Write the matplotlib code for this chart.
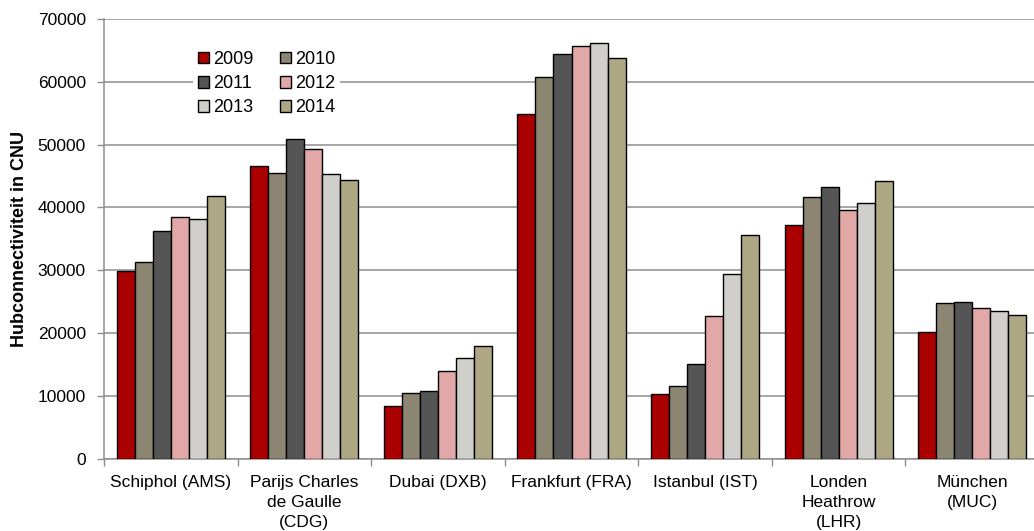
import matplotlib.pyplot as plt
import numpy as np
from matplotlib.ticker import FixedLocator, NullFormatter

# Data
airports = [
    "Schiphol (AMS)",
    "Parijs Charles\nde Gaulle\n(CDG)",
    "Dubai (DXB)",
    "Frankfurt (FRA)",
    "Istanbul (IST)",
    "Londen\nHeathrow\n(LHR)",
    "München\n(MUC)",
]
years = ["2009", "2010", "2011", "2012", "2013", "2014"]

cnu_2009 = [29900, 46650, 8400, 54900, 10350, 37200, 20100]
cnu_2010 = [31300, 45450, 10500, 60800, 11550, 41650, 24750]
cnu_2011 = [36250, 50850, 10850, 64500, 15150, 43300, 24900]
cnu_2012 = [38400, 49350, 13950, 65700, 22650, 39650, 24000]
cnu_2013 = [38150, 45400, 16000, 66100, 29400, 40700, 23450]
cnu_2014 = [41900, 44400, 18000, 63850, 35600, 44200, 22900]
series = [cnu_2009, cnu_2010, cnu_2011, cnu_2012, cnu_2013, cnu_2014]

colors = ["#AA0000", "#8C8572", "#555555", "#E2A8A8", "#D0CFCB", "#ADA783"]

plt.rcParams["font.family"] = ["Liberation Sans", "DejaVu Sans"]
plt.rcParams["font.size"] = 12.5

W, H = 1034, 531
fig = plt.figure(figsize=(W / 100, H / 100), dpi=100)

# axes spans a little past the right edge, as in the reference
left, right, top, bottom = 104, 1039, 19, 458.7
ax = fig.add_axes([left / W, 1 - bottom / H, (right - left) / W, (bottom - top) / H])

x = np.arange(len(airports))
bar_w = 0.135
n = len(series)
bars = []
for i, (vals, year, col) in enumerate(zip(series, years, colors)):
    offs = (i - (n - 1) / 2) * bar_w
    b = ax.bar(x + offs, vals, width=bar_w, color=col, edgecolor="black",
               linewidth=1.0, label=year, zorder=3)
    bars.append(b)

ax.set_xlim(-0.5, len(airports) - 0.5)
ax.set_ylim(0, 70000)
ax.set_yticks(range(0, 70001, 10000))

ax.grid(axis="y", color="#8E8E8E", linewidth=1.1, zorder=0)
ax.set_axisbelow(True)

for side in ["top", "right"]:
    ax.spines[side].set_visible(False)
for side in ["left", "bottom"]:
    ax.spines[side].set_color("#8E8E8E")
    ax.spines[side].set_linewidth(1.1)

# category labels centred, tick marks at the group boundaries
ax.set_xticks(x)
ax.set_xticklabels(airports, linespacing=1.4)
ax.tick_params(axis="x", which="major", length=0, pad=12)
ax.xaxis.set_minor_locator(FixedLocator(np.arange(-0.5, len(airports), 1.0)))
ax.xaxis.set_minor_formatter(NullFormatter())
ax.tick_params(axis="x", which="minor", length=5, color="#8E8E8E", width=1.0)
ax.tick_params(axis="y", length=5, color="#8E8E8E", width=1.0, pad=8)

ax.set_ylabel("Hubconnectiviteit in CNU", fontweight="bold", fontsize=13,
              labelpad=7)

# legend reads row by row: 2009 2010 / 2011 2012 / 2013 2014
order = [0, 2, 4, 1, 3, 5]
ax.legend([bars[k] for k in order], [years[k] for k in order],
          ncol=2, loc="center", bbox_to_anchor=(0.174, 0.853),
          frameon=True, facecolor="white", edgecolor="none", framealpha=1,
          fancybox=False, handlelength=0.6, handleheight=0.6,
          handletextpad=0.2, columnspacing=1.5, labelspacing=0.4,
          borderpad=0.3, fontsize=13)

plt.savefig("out.png", dpi=100)
